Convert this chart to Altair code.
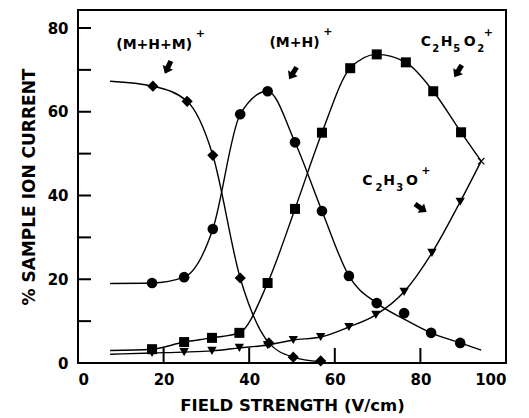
import altair as alt
import pandas as pd

# ---- data ----
field_dia = [17.5, 25.5, 31.5, 37.9, 44.6, 50.3, 56.7]
mhm = [66.1, 62.5, 49.6, 20.3, 4.8, 1.4, 0.5]

field_circ = [17.3, 24.8, 31.5, 37.9, 44.3, 50.7, 57.0, 63.3, 69.8, 76.2, 82.5, 89.3]
mh = [19.1, 20.5, 32.0, 59.4, 64.9, 52.7, 36.3, 20.8, 14.3, 11.9, 7.2, 4.8]

field_sq = [17.3, 24.8, 31.3, 37.7, 44.3, 50.7, 57.0, 63.6, 69.8, 76.6, 83.0, 89.5]
c2h5o2 = [3.3, 5.0, 6.0, 7.2, 19.1, 36.8, 55.0, 70.4, 73.7, 71.8, 64.9, 55.1]

field_tri = [17.3, 24.8, 31.3, 37.7, 44.3, 50.3, 56.7, 63.3, 69.6, 76.2, 82.7, 89.3]
c2h3o = [2.4, 2.6, 2.9, 3.6, 4.3, 5.5, 6.2, 8.6, 11.5, 17.0, 26.3, 38.5]

# fitted curves (as drawn)
curve_dia_x = [7.5, 17.5, 25.5, 31.5, 37.9, 44.6, 50.3, 56.7]
curve_dia_y = [67.3, 66.1, 62.5, 49.6, 20.3, 4.8, 1.4, 0.3]
curve_circ_x = [7.5, 17.3, 24.8, 31.5, 37.9, 44.3, 50.7, 57.0, 63.3, 69.8, 76.2, 82.5, 89.3, 94.2]
curve_circ_y = [19.0, 19.1, 20.5, 32.0, 59.4, 64.9, 52.7, 36.3, 20.8, 14.3, 10.5, 7.2, 4.8, 3.1]
curve_sq_x = [7.5, 17.3, 24.8, 31.3, 37.7, 44.3, 50.7, 57.0, 63.6, 69.8, 76.6, 83.0, 89.5, 94.2]
curve_sq_y = [3.0, 3.3, 5.0, 6.0, 7.2, 19.1, 36.8, 55.0, 70.4, 73.7, 71.8, 64.9, 55.1, 48.2]
curve_tri_x = [7.5, 17.3, 24.8, 31.3, 37.7, 44.3, 50.3, 56.7, 63.3, 69.6, 76.2, 82.7, 89.3, 94.2]
curve_tri_y = [2.1, 2.4, 2.6, 2.9, 3.6, 4.3, 5.5, 6.2, 8.6, 11.5, 17.0, 26.3, 38.5, 48.2]

end_x = [94.2]
end_y = [48.2]

series = ["(M+H+M)+", "(M+H)+", "C2H5O2+", "C2H3O+"]
shapes = ["diamond", "circle", "square", "triangle-down"]
marker_sizes = [125, 88, 110, 120]

# annotation pieces: main text, subscripts, superscripts
main_text = ["(M+H+M)", "(M+H)", "C", "H", "O", "C", "H", "O"]
main_x = [17.8, 50.6, 81.3, 86.1, 91.5, 67.6, 72.7, 78.0]
main_y = [75.9, 76.4, 76.7, 76.7, 76.7, 43.5, 43.5, 43.5]
sub_text = ["2", "5", "2", "2", "3"]
sub_x = [83.6, 88.5, 94.1, 70.3, 75.2]
sub_y = [75.0, 75.0, 75.0, 41.9, 41.9]
plus_x = [28.6, 58.4, 95.9, 81.3]
plus_y = [78.6, 79.0, 78.7, 45.8]
arrow_x = [21.0, 50.2, 88.8, 80.1]
arrow_y = [70.6, 69.2, 69.7, 37.0]
arrow_angle = [205, 212, 212, 125]

x_ticks = [0, 20, 40, 60, 80, 100]
y_ticks = [0, 20, 40, 60, 80]
y_minor = [0, 10, 20, 30, 40, 50, 60, 70, 80]
x_minor = [20, 40, 60, 80]

# ---- tables ----
pts = pd.concat([
    pd.DataFrame({"x": xs, "y": ys, "s": s})
    for xs, ys, s in [(field_dia, mhm, series[0]), (field_circ, mh, series[1]),
                      (field_sq, c2h5o2, series[2]), (field_tri, c2h3o, series[3])]
])
curves = pd.concat([
    pd.DataFrame({"x": xs, "y": ys, "s": s})
    for xs, ys, s in [(curve_dia_x, curve_dia_y, series[0]), (curve_circ_x, curve_circ_y, series[1]),
                      (curve_sq_x, curve_sq_y, series[2]), (curve_tri_x, curve_tri_y, series[3])]
])
mains = pd.DataFrame({"x": main_x, "y": main_y, "t": main_text})
subs = pd.DataFrame({"x": sub_x, "y": sub_y, "t": sub_text})
pluses = pd.DataFrame({"x": plus_x, "y": plus_y, "t": ["+"] * 4})
arrows = pd.DataFrame({"x": arrow_x, "y": arrow_y, "a": arrow_angle})
ends = pd.DataFrame({"x": end_x, "y": end_y})

W, H = 428, 353
FONT = "DejaVu Sans"
xs = alt.Scale(domain=[0, 100], nice=False, zero=False)
ys = alt.Scale(domain=[0, 84.3], nice=False, zero=False)

X = alt.X("x:Q", scale=xs, axis=alt.Axis(
    values=x_ticks, title="FIELD STRENGTH (V/cm)", grid=False, domain=False, ticks=False,
    labelFont=FONT, labelFontSize=15, labelFontWeight="bold", labelPadding=9, labelColor="black",
    titleFont=FONT, titleFontSize=16.5, titleFontWeight="bold", titlePadding=10, titleColor="black"))
Y = alt.Y("y:Q", scale=ys, axis=alt.Axis(
    values=y_ticks, title="% SAMPLE ION CURRENT", grid=False, domain=False, ticks=False,
    labelFont=FONT, labelFontSize=15, labelFontWeight="bold", labelPadding=10, labelColor="black",
    titleFont=FONT, titleFontSize=17, titleFontWeight="bold", titlePadding=9, titleColor="black"))

lines = alt.Chart(curves).mark_line(interpolate="monotone", color="black", strokeWidth=1.4).encode(
    x=X, y=Y, detail="s:N")

markers = alt.Chart(pts).mark_point(filled=True, color="black", opacity=1).encode(
    x=X, y=Y,
    shape=alt.Shape("s:N", scale=alt.Scale(domain=series, range=shapes), legend=None),
    size=alt.Size("s:N", scale=alt.Scale(domain=series, range=marker_sizes), legend=None))

end_mark = alt.Chart(ends).mark_point(
    shape="M-1,-1L1,1M-1,1L1,-1", filled=False, color="black", strokeWidth=1.2, size=40, opacity=1
).encode(x=X, y=Y)

ytick_df = pd.DataFrame({"y": y_minor})
xtick_df = pd.DataFrame({"x": x_minor})
yt = alt.Chart(ytick_df).mark_rule(color="black", strokeWidth=2).encode(
    y=Y, x=alt.value(0), x2=alt.value(13))
xt = alt.Chart(xtick_df).mark_rule(color="black", strokeWidth=2).encode(
    x=X, y=alt.value(H), y2=alt.value(H - 15))

lab = alt.Chart(mains).mark_text(font=FONT, fontSize=14, fontWeight="bold", color="black").encode(
    x=X, y=Y, text="t:N")
sub = alt.Chart(subs).mark_text(font=FONT, fontSize=10, fontWeight="bold", color="black").encode(
    x=X, y=Y, text="t:N")
plu = alt.Chart(pluses).mark_text(font=FONT, fontSize=11, fontWeight="bold", color="black").encode(
    x=X, y=Y, text="t:N")
arr = alt.Chart(arrows).mark_point(
    shape="M0,-1L0.8,0.0L0.36,0.0L0.36,1L-0.36,1L-0.36,0.0L-0.8,0.0Z",
    filled=True, color="black", opacity=1, size=200
).encode(x=X, y=Y, angle=alt.Angle("a:Q", scale=None))

chart = alt.layer(lines, markers, end_mark, yt, xt, lab, sub, plu, arr).properties(
    width=W, height=H,
    autosize=alt.AutoSizeParams(type="none"),
    padding={"left": 78, "top": 10, "right": 23, "bottom": 55},
    background="white",
).configure_view(stroke="black", strokeWidth=2)

chart.save("out.html", embed_options={"renderer": "svg", "actions": False})
